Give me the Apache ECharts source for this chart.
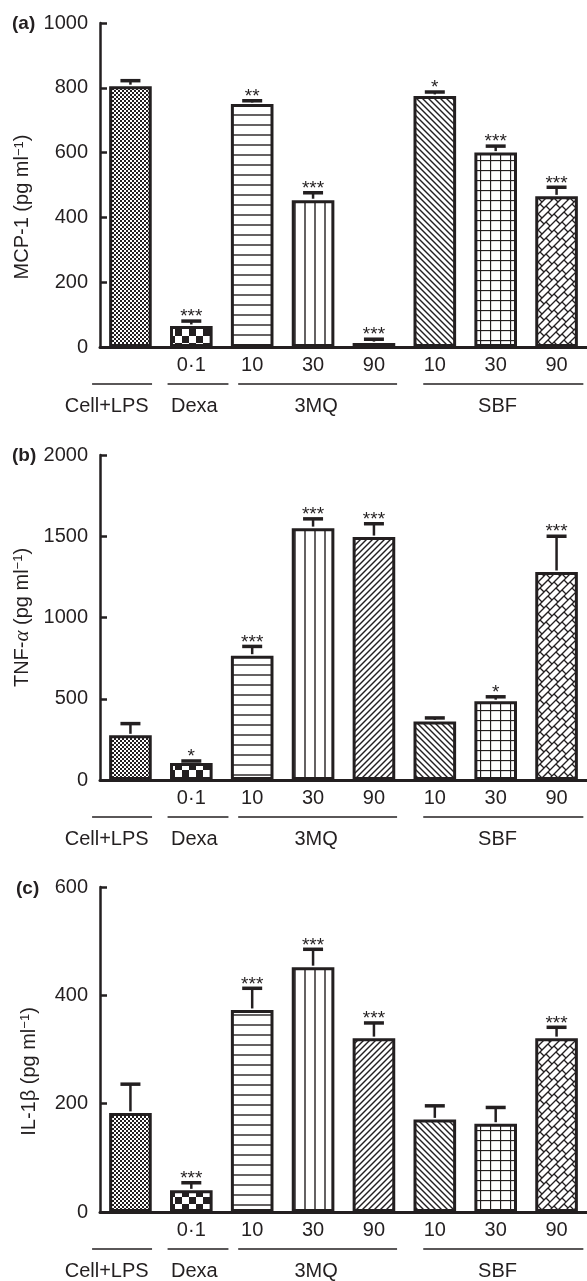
<!DOCTYPE html>
<html>
<head>
<meta charset="utf-8">
<script src="https://cdn.jsdelivr.net/npm/echarts@6/dist/echarts.min.js"></script>
<style>
  html, body { margin: 0; padding: 0; background: #fff; }
  #chart { width: 587px; height: 1281px; }
</style>
</head>
<body>
<div id="chart"></div>
<script>
// ---------------- DATA ----------------
const categories = ['Cell+LPS', 'Dexa 0·1', '3MQ 10', '3MQ 30', '3MQ 90', 'SBF 10', 'SBF 30', 'SBF 90'];
const tickLabels = ['', '0·1', '10', '30', '90', '10', '30', '90'];
const groupNames = ['Cell+LPS', 'Dexa', '3MQ', 'SBF'];
const groupFrom = [0, 1, 2, 5];
const groupTo = [0, 1, 4, 7];

const mcpValues = [805, 65, 750, 453, 12, 775, 600, 465];
const mcpErrors = [17, 15, 10, 23, 12, 12, 20, 28];
const mcpStars = ['', '***', '**', '***', '***', '*', '***', '***'];

const tnfValues = [275, 105, 765, 1550, 1495, 360, 485, 1280];
const tnfErrors = [72, 12, 57, 57, 82, 22, 27, 220];
const tnfStars = ['', '*', '***', '***', '***', '', '*', '***'];

const il1Values = [183, 40, 373, 452, 321, 171, 163, 321];
const il1Errors = [53, 14, 40, 33, 28, 25, 30, 20];
const il1Stars = ['', '***', '***', '***', '***', '', '', '***'];

const mcpTicks = { max: 1000, interval: 200 };
const tnfTicks = { max: 2000, interval: 500 };
const il1Ticks = { max: 600, interval: 200 };

// ---------------- STYLE ----------------
const INK = '#231f20';
const FONT = '"Liberation Sans", Arial, Helvetica, sans-serif';
const fillKinds = ['fineCheck', 'bigCheck', 'hLines', 'vLines', 'diagUp', 'diagDown', 'grid', 'weave'];
// group underline extents (fractions of a category band relative to first/last category centre)
const groupSpanL = [-0.63, -0.39, -0.23, -0.19];
const groupSpanR = [0.355, 0.61, 0.38, 0.44];
const groupLabelShift = [-0.39, 0.05, 0.05, 0.03];

function makePattern(kind) {
  const c = document.createElement('canvas');
  let s = 10;
  if (kind === 'fineCheck') s = 4;
  if (kind === 'bigCheck') s = 14;
  if (kind === 'diagUp' || kind === 'diagDown') s = 6;
  if (kind === 'weave') s = 16;
  c.width = s; c.height = s;
  const g = c.getContext('2d');
  g.fillStyle = '#fff';
  g.fillRect(0, 0, s, s);
  g.fillStyle = INK;
  g.strokeStyle = INK;
  g.lineWidth = 1.4;
  const seg = (x1, y1, x2, y2) => { g.beginPath(); g.moveTo(x1, y1); g.lineTo(x2, y2); g.stroke(); };
  switch (kind) {
    case 'fineCheck':
      g.fillRect(0, 0, 2, 2); g.fillRect(2, 2, 2, 2); break;
    case 'bigCheck':
      g.fillRect(0, 0, 7, 7); g.fillRect(7, 7, 7, 7); break;
    case 'hLines':
      seg(0, 5, s, 5); break;
    case 'vLines':
      seg(5, 0, 5, s); break;
    case 'diagUp':
      seg(-1, s + 1, s + 1, -1); seg(-1, 1, 1, -1); seg(s - 1, s + 1, s + 1, s - 1); break;
    case 'diagDown':
      seg(-1, -1, s + 1, s + 1); seg(-1, s - 1, 1, s + 1); seg(s - 1, -1, s + 1, 1); break;
    case 'grid':
      g.lineWidth = 1.3; seg(0, 0.5, s, 0.5); seg(0.5, 0, 0.5, s); break;
    case 'weave':
      g.lineWidth = 1.3;
      seg(-1, 1, 1, -1); seg(-1, 9, 9, -1); seg(-1, 17, 17, -1); seg(7, 17, 17, 7); seg(15, 17, 17, 15);
      seg(4, 4, 8, 8); seg(10, 6, 14, 10); seg(2, 14, 6, 18); seg(2, -2, 6, 2); seg(12, 12, 16, 16); seg(-4, 12, 0, 16);
      break;
  }
  return { image: c, repeat: 'repeat' };
}
const fills = fillKinds.map(makePattern);

const panels = [
  { title: '(a)', titleLeft: 12, titleTop: 14, top: 23, height: 324, values: mcpValues, errors: mcpErrors, stars: mcpStars, ticks: mcpTicks,
    name: '{n|MCP-1 (pg ml}{s|−1}{n|)}', nameShift: 44 },
  { title: '(b)', titleLeft: 12, titleTop: 446, top: 455, height: 325, values: tnfValues, errors: tnfErrors, stars: tnfStars, ticks: tnfTicks,
    name: '{n|TNF-}{g|α}{n| (pg ml}{s|−1}{n|)}', nameShift: 0 },
  { title: '(c)', titleLeft: 16, titleTop: 879, top: 887, height: 325, values: il1Values, errors: il1Errors, stars: il1Stars, ticks: il1Ticks,
    name: '{n|IL-1β (pg ml}{s|−1}{n|)}', nameShift: 44 }
];

const option = {
  animation: false,
  backgroundColor: '#fff',
  textStyle: { fontFamily: FONT, color: INK },
  title: panels.map(p => ({
    text: p.title, left: p.titleLeft, top: p.titleTop, padding: 0,
    textStyle: { fontFamily: FONT, fontSize: 19, fontWeight: 'bold', color: INK }
  })),
  grid: panels.map(p => ({ left: 100, right: 0, top: p.top, height: p.height, containLabel: false })),
  xAxis: panels.map((p, i) => ({
    type: 'category', gridIndex: i, data: categories,
    axisLine: { lineStyle: { color: INK, width: 3 } },
    axisTick: { show: false },
    axisLabel: { interval: 0, margin: 8, fontSize: 20, color: INK, fontFamily: FONT,
      formatter: (v, idx) => tickLabels[idx] },
    splitLine: { show: false }
  })),
  yAxis: panels.map((p, i) => ({
    type: 'value', gridIndex: i, min: 0, max: p.ticks.max, interval: p.ticks.interval,
    name: p.name, nameLocation: 'middle', nameRotate: 90, nameGap: 61,
    nameTextStyle: {
      padding: [0, p.nameShift, 0, 0],
      rich: {
        n: { fontSize: 20, fontFamily: FONT, color: INK },
        g: { fontSize: 21, fontFamily: '"Liberation Serif", serif', fontStyle: 'italic', color: INK },
        s: { fontSize: 13, fontFamily: FONT, color: INK, verticalAlign: 'top', padding: [0, 0, 6, 0] }
      }
    },
    axisLine: { show: true, lineStyle: { color: INK, width: 2.5 } },
    axisTick: { show: true, inside: true, length: 7, lineStyle: { color: INK, width: 2.5 } },
    axisLabel: { margin: 12, fontSize: 20, color: INK, fontFamily: FONT, formatter: v => String(v) },
    splitLine: { show: false }
  })),
  series: []
};

panels.forEach((p, i) => {
  option.series.push({
    type: 'bar', xAxisIndex: i, yAxisIndex: i, barWidth: '70%', z: 2,
    data: p.values.map((v, k) => ({ value: v, itemStyle: { color: fills[k], borderColor: INK, borderWidth: 3 } }))
  });
  option.series.push({
    type: 'custom', xAxisIndex: i, yAxisIndex: i, z: 4, clip: false, silent: true,
    data: p.values.map((v, k) => [k, v, p.errors[k]]),
    renderItem: (params, api) => {
      const x = api.value(0), v = api.value(1), e = api.value(2);
      const base = api.coord([x, v]);
      const top = api.coord([x, v + e]);
      const st = p.stars[params.dataIndex];
      return {
        type: 'group',
        children: [
          { type: 'line', shape: { x1: base[0], y1: base[1] - 1.5, x2: top[0], y2: top[1] }, style: { stroke: INK, lineWidth: 2.5 } },
          { type: 'line', shape: { x1: top[0] - 10, y1: top[1], x2: top[0] + 10, y2: top[1] }, style: { stroke: INK, lineWidth: 3.5 } },
          { type: 'text', x: top[0], y: top[1] - 4, style: { text: st, align: 'center', verticalAlign: 'middle', fontSize: 19, fontFamily: FONT, fill: INK } }
        ]
      };
    }
  });
  option.series.push({
    type: 'custom', xAxisIndex: i, yAxisIndex: i, z: 4, clip: false, silent: true,
    data: groupNames.map((n, gi) => [groupFrom[gi], 0, groupTo[gi], gi]),
    renderItem: (params, api) => {
      const gi = api.value(3);
      const c1 = api.coord([api.value(0), 0]);
      const c2 = api.coord([api.value(2), 0]);
      const band = api.size([1, 0])[0];
      const left = c1[0] + groupSpanL[gi] * band;
      const right = c2[0] + groupSpanR[gi] * band;
      const cx = (c1[0] + c2[0]) / 2 + groupLabelShift[gi] * band;
      return {
        type: 'group',
        children: [
          { type: 'line', shape: { x1: left, y1: c1[1] + 37, x2: right, y2: c1[1] + 37 }, style: { stroke: INK, lineWidth: 1.5 } },
          { type: 'text', x: cx, y: c1[1] + 59, style: { text: groupNames[gi], align: 'center', verticalAlign: 'middle', fontSize: 20, fontFamily: FONT, fill: INK } }
        ]
      };
    }
  });
});

const chart = echarts.init(document.getElementById('chart'), null, { renderer: 'canvas' });
chart.setOption(option);
</script>
</body>
</html>
